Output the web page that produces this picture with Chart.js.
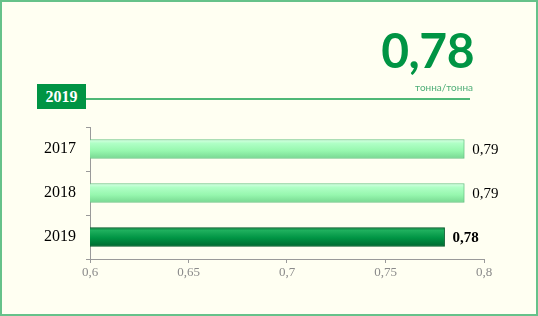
<!DOCTYPE html>
<html>
<head>
<meta charset="utf-8">
<script src="https://cdn.jsdelivr.net/npm/chart.js@4"></script>
<style>
  html, body { margin: 0; padding: 0; }
  body { width: 538px; height: 316px; background: #fffff2; position: relative; overflow: hidden; }
  #frame { position: absolute; left: 0; top: 0; width: 534px; height: 312px; border: 2px solid #66c28a; }
  #wrap { position: absolute; left: 0; top: 0; width: 538px; height: 316px; }
  #big { position: absolute; right: 64px; top: 21px; font: bold 48px Lato, sans-serif; color: #009444; letter-spacing: -0.5px; }
  #unit { position: absolute; right: 65px; top: 81px; font: 10px Lato, sans-serif; color: #4fae78; }
  #year { position: absolute; left: 37px; top: 84px; width: 49px; height: 25px; background: #009444; color: #fff;
          font: bold 16px "Liberation Serif", serif; text-align: center; line-height: 25px; }
  #rule { position: absolute; left: 86px; top: 98px; width: 384px; height: 1.5px; background: #4fb877; }
</style>
</head>
<body>
<div id="wrap"><canvas id="myChart"></canvas></div>
<div id="big">0,78</div>
<div id="unit">тонна/тонна</div>
<div id="year">2019</div>
<div id="rule"></div>
<div id="frame"></div>
<script>
const years = ['2017', '2018', '2019']
const values = [0.79, 0.79, 0.78]
const boldLabel = [false, false, true]
const xMin = 0.6
const xMax = 0.8
const xStep = 0.05

function fmt(v)
{
  return (Math.round(v * 100) / 100).toString().replace('.', ',')
}

function barFill(context)
{
  const chart = context.chart
  const dark = context.dataIndex === 2
  const y = chart.scales.y
  if (!y || !chart.chartArea) return dark ? '#009444' : '#99ffb0'
  const mid = y.getPixelForValue(context.dataIndex)
  const top = mid - 9.5
  const g = chart.ctx.createLinearGradient(0, top, 0, top + 19)
  if (dark) {
    g.addColorStop(0, '#0a7a3a')
    g.addColorStop(0.15, '#1fb05e')
    g.addColorStop(0.55, '#009444')
    g.addColorStop(1, '#006a30')
  } else {
    g.addColorStop(0, '#d8ffe4')
    g.addColorStop(0.2, '#b0ffc6')
    g.addColorStop(0.6, '#96f7ae')
    g.addColorStop(1, '#78d892')
  }
  return g
}

const valueLabels = {
  id: 'valueLabels',
  afterDatasetsDraw(chart) {
    const ctx = chart.ctx
    const meta = chart.getDatasetMeta(0)
    ctx.save()
    ctx.fillStyle = '#000'
    ctx.textBaseline = 'middle'
    meta.data.forEach(function(bar, i) {
      ctx.font = (boldLabel[i] ? 'bold ' : '') + '15px "Liberation Serif", serif'
      ctx.fillText(fmt(values[i]), bar.x + 8, bar.y + 1)
    })
    ctx.restore()
  }
}

var ctx = document.getElementById('myChart').getContext('2d')
var chart = new Chart(ctx, {
  type: 'bar',
  data: {
    labels: years,
    datasets: [{
      data: values,
      backgroundColor: barFill,
      borderColor: function(c) { return c.dataIndex === 2 ? '#005a28' : '#6cc487' },
      borderWidth: 1,
      borderSkipped: false,
      barThickness: 19
    }]
  },
  options: {
    indexAxis: 'y',
    responsive: true,
    maintainAspectRatio: false,
    animation: false,
    layout: { padding: { top: 127, right: 54, bottom: 0, left: 0 } },
    plugins: { legend: { display: false }, tooltip: { enabled: false } },
    scales: {
      x: {
        min: xMin,
        max: xMax,
        afterFit: function(s) { s.height = 57 },
        afterBuildTicks: function(s) {
          const t = []
          for (let i = 0; i <= Math.round((xMax - xMin) / xStep); i++) t.push({ value: xMin + i * xStep })
          s.ticks = t
        },
        ticks: {
          callback: function(v) { return fmt(v) },
          color: '#8a8a8a',
          font: { family: '"Liberation Serif", serif', size: 13 },
          padding: 2,
          maxRotation: 0
        },
        grid: { drawOnChartArea: false, tickLength: 4, color: '#9a9a9a' },
        border: { color: '#9a9a9a' }
      },
      y: {
        afterFit: function(s) { s.width = 90 },
        ticks: {
          color: '#000',
          font: { family: '"Liberation Serif", serif', size: 16 },
          padding: 10
        },
        grid: { offset: true, drawOnChartArea: false, tickLength: 4, color: '#9a9a9a' },
        border: { color: '#9a9a9a' }
      }
    }
  },
  plugins: [valueLabels]
})
</script>
</body>
</html>
